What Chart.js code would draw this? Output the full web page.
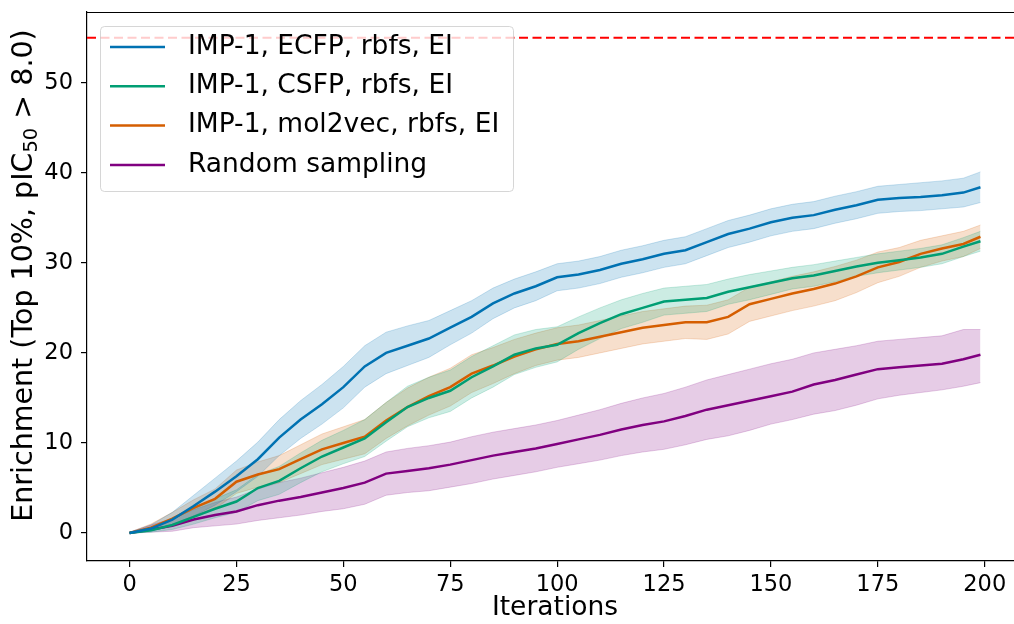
<!DOCTYPE html>
<html>
<head>
<meta charset="utf-8">
<script src="https://cdn.jsdelivr.net/npm/chart.js@4.4.1/dist/chart.umd.min.js"></script>
<style>
  html, body { margin: 0; padding: 0; background: #fff; overflow: hidden; }
  canvas { display: block; }
</style>
</head>
<body>
<canvas id="chart" width="1024" height="624"></canvas>
<script>
// values every 5 iterations
const iterations = [0,5,10,15,20,25,30,35,40,45,50,55,60,65,70,75,80,85,90,95,100,105,110,115,120,125,130,135,140,145,150,155,160,165,170,175,180,185,190,195,199];

const ecfpMean  = [0,0.5,1.5,3.0,4.6,6.3,8.2,10.6,12.6,14.3,16.2,18.5,20.0,20.8,21.6,22.8,24.0,25.5,26.6,27.4,28.4,28.7,29.2,29.9,30.4,31.0,31.4,32.3,33.2,33.8,34.5,35.0,35.3,35.9,36.4,37.0,37.2,37.3,37.5,37.8,38.4];
const ecfpUpper = [0.1,0.9,2.3,4.2,6.1,8.0,10.1,12.6,14.7,16.5,18.5,20.8,22.3,23.0,23.6,24.7,25.8,27.2,28.2,29.0,29.9,30.2,30.7,31.4,31.9,32.5,32.9,33.8,34.7,35.3,36.0,36.5,36.8,37.4,37.9,38.5,38.7,38.9,39.1,39.4,40.1];
const ecfpLower = [0,0.2,0.8,1.9,3.1,4.6,6.3,8.6,10.5,12.1,13.9,16.2,17.7,18.6,19.5,20.9,22.2,23.8,25.0,25.8,26.9,27.2,27.7,28.4,28.9,29.5,29.9,30.8,31.7,32.3,33.0,33.5,33.8,34.4,34.9,35.5,35.7,35.8,36.0,36.2,36.7];

const csfpMean  = [0,0.3,0.9,1.8,2.7,3.5,5.0,5.8,7.2,8.5,9.5,10.5,12.3,14.0,15.0,15.8,17.3,18.5,19.8,20.5,20.9,22.2,23.3,24.3,25.0,25.7,25.9,26.1,26.8,27.3,27.8,28.3,28.6,29.1,29.6,30.0,30.3,30.6,31.0,31.8,32.4];
const csfpUpper = [0.1,0.6,1.5,2.7,3.8,4.8,6.5,7.4,8.9,10.3,11.4,12.6,14.5,16.3,17.3,18.1,19.6,20.8,22.0,22.6,22.9,24.0,25.0,25.9,26.6,27.2,27.4,27.6,28.2,28.7,29.1,29.5,29.8,30.2,30.6,31.0,31.3,31.6,32.0,32.8,33.5];
const csfpLower = [0,0.1,0.4,1.0,1.7,2.3,3.6,4.3,5.6,6.8,7.7,8.5,10.2,11.8,12.8,13.5,15.0,16.2,17.6,18.4,19.0,20.4,21.6,22.7,23.4,24.2,24.4,24.6,25.4,25.9,26.5,27.1,27.4,27.9,28.5,28.9,29.2,29.5,29.9,30.7,31.3];

const mol2vecMean  = [0,0.6,1.6,2.8,3.8,5.7,6.5,7.1,8.2,9.3,10.0,10.7,12.5,14.0,15.2,16.2,17.7,18.6,19.6,20.4,21.0,21.3,21.8,22.3,22.8,23.1,23.4,23.4,24.0,25.4,26.0,26.6,27.1,27.7,28.5,29.5,30.1,31.0,31.6,32.1,32.9];
const mol2vecUpper = [0.1,1.0,2.3,3.7,4.9,7.0,7.9,8.6,9.8,11.0,11.8,12.6,14.5,16.1,17.3,18.3,19.8,20.6,21.5,22.2,22.8,23.1,23.6,24.1,24.6,24.9,25.2,25.3,25.9,27.3,27.9,28.5,29.0,29.6,30.3,31.2,31.7,32.5,33.0,33.5,34.2];
const mol2vecLower = [0,0.3,0.9,1.9,2.7,4.4,5.1,5.6,6.6,7.6,8.2,8.8,10.5,11.9,13.1,14.1,15.6,16.6,17.7,18.6,19.2,19.5,20.0,20.5,21.0,21.3,21.6,21.5,22.1,23.5,24.1,24.7,25.2,25.8,26.7,27.8,28.5,29.5,30.2,30.7,31.6];

const randomMean  = [0,0.4,0.8,1.5,2.0,2.4,3.1,3.6,4.0,4.5,5.0,5.6,6.6,6.9,7.2,7.6,8.1,8.6,9.0,9.4,9.9,10.4,10.9,11.5,12.0,12.4,13.0,13.7,14.2,14.7,15.2,15.7,16.5,17.0,17.6,18.2,18.4,18.6,18.8,19.3,19.8];
const randomUpper = [0.1,0.9,1.6,2.6,3.4,4.0,4.9,5.6,6.1,6.7,7.3,8.0,9.0,9.4,9.7,10.1,10.7,11.2,11.6,12.0,12.5,13.1,13.7,14.4,15.0,15.5,16.2,17.0,17.6,18.2,18.8,19.3,20.0,20.4,20.8,21.3,21.5,21.7,21.9,22.6,22.6];
const randomLower = [0,0.1,0.2,0.6,0.8,1.0,1.4,1.7,2.0,2.4,2.7,3.2,4.2,4.5,4.7,5.1,5.5,6.0,6.4,6.8,7.3,7.7,8.1,8.6,9.0,9.3,9.8,10.4,10.8,11.4,12.1,12.6,13.2,13.6,14.2,14.9,15.3,15.6,15.9,16.3,16.7];

const threshold = 55;
const xTicks = [0, 25, 50, 75, 100, 125, 150, 175, 200];
const yTicks = [0, 10, 20, 30, 40, 50];

const seriesLabels = ["IMP-1, ECFP, rbfs, EI", "IMP-1, CSFP, rbfs, EI", "IMP-1, mol2vec, rbfs, EI", "Random sampling"];
const seriesColors = ["#0072B2", "#009E73", "#D55E00", "#800080"];
// y label is drawn in three parts so "50" can sit as a real subscript
const yTitleParts = ["Enrichment (Top 10%, pIC", "50", " > 8.0)"];

const FONT = "'DejaVu Sans', sans-serif";

const toPoints = ys => ys.map((y, i) => ({ x: iterations[i], y: y }));

function withAlpha(hex, a) {
  const n = parseInt(hex.slice(1), 16);
  return `rgba(${(n >> 16) & 255}, ${(n >> 8) & 255}, ${n & 255}, ${a})`;
}

const series = [
  [ecfpMean, ecfpUpper, ecfpLower],
  [csfpMean, csfpUpper, csfpLower],
  [mol2vecMean, mol2vecUpper, mol2vecLower],
  [randomMean, randomUpper, randomLower]
];

const datasets = [];
series.forEach(([mean, upper, lower], i) => {
  const c = seriesColors[i];
  datasets.push({
    label: seriesLabels[i] + " upper",
    data: toPoints(upper),
    borderColor: withAlpha(c, 0.2),
    borderWidth: 1,
    backgroundColor: withAlpha(c, 0.2),
    fill: "+1",
    pointRadius: 0,
    tension: 0,
    order: 2
  });
  datasets.push({
    label: seriesLabels[i] + " lower",
    data: toPoints(lower),
    borderColor: withAlpha(c, 0.2),
    borderWidth: 1,
    fill: false,
    pointRadius: 0,
    tension: 0,
    order: 2
  });
});
series.forEach(([mean], i) => {
  datasets.push({
    label: seriesLabels[i],
    data: toPoints(mean),
    borderColor: seriesColors[i],
    borderWidth: 2.5,
    fill: false,
    pointRadius: 0,
    tension: 0,
    order: 1
  });
});
datasets.push({
  label: "threshold",
  data: [{ x: -9.95, y: threshold }, { x: 208.95, y: threshold }],
  borderColor: "#ff0000",
  borderWidth: 2,
  borderDash: [9, 4.5],
  pointRadius: 0,
  fill: false,
  order: 0
});

// top spine, y label and matplotlib style legend box
const framePlugin = {
  id: "frame",
  afterDatasetsDraw(chart) {
    const { ctx, chartArea } = chart;
    ctx.save();
    ctx.strokeStyle = "#000";
    ctx.lineWidth = 1.2;
    ctx.beginPath();
    ctx.moveTo(chartArea.left, chartArea.top + 0.5);
    ctx.lineTo(chartArea.right, chartArea.top + 0.5);
    ctx.stroke();

    // y axis title
    const big = 28.5, small = 19.5;
    ctx.fillStyle = "#000";
    ctx.textBaseline = "alphabetic";
    ctx.textAlign = "left";
    ctx.font = big + "px " + FONT;
    const w0 = ctx.measureText(yTitleParts[0]).width;
    const w2 = ctx.measureText(yTitleParts[2]).width;
    ctx.font = small + "px " + FONT;
    const w1 = ctx.measureText(yTitleParts[1]).width;
    const total = w0 + w1 + w2;
    const cy = (chartArea.top + chartArea.bottom) / 2 - 11;
    ctx.translate(32, cy);
    ctx.rotate(-Math.PI / 2);
    let tx = -total / 2;
    ctx.font = big + "px " + FONT;
    ctx.fillText(yTitleParts[0], tx, 0);
    tx += w0;
    ctx.font = small + "px " + FONT;
    ctx.fillText(yTitleParts[1], tx, 5);
    tx += w1;
    ctx.font = big + "px " + FONT;
    ctx.fillText(yTitleParts[2], tx, 0);
    ctx.setTransform(1, 0, 0, 1, 0, 0);

    // legend
    const bx = chartArea.left + 13, by = chartArea.top + 14;
    const bw = 413, bh = 165;
    ctx.fillStyle = "rgba(255,255,255,0.8)";
    ctx.strokeStyle = "rgba(204,204,204,0.8)";
    ctx.lineWidth = 1;
    ctx.beginPath();
    ctx.roundRect(bx + 0.5, by + 0.5, bw, bh, 4);
    ctx.fill();
    ctx.stroke();

    ctx.font = "26.5px " + FONT;
    ctx.textBaseline = "middle";
    seriesLabels.forEach((label, i) => {
      const ry = by + 21 + i * 39.3;
      ctx.strokeStyle = seriesColors[i];
      ctx.lineWidth = 2.5;
      ctx.beginPath();
      ctx.moveTo(bx + 10, ry);
      ctx.lineTo(bx + 65, ry);
      ctx.stroke();
      ctx.fillStyle = "#000";
      ctx.fillText(label, bx + 88, ry);
    });
    ctx.restore();
  }
};

new Chart(document.getElementById("chart"), {
  type: "line",
  data: { datasets: datasets },
  plugins: [framePlugin],
  options: {
    responsive: false,
    animation: false,
    layout: { padding: { top: 12, right: 1, left: 0, bottom: 0 } },
    plugins: {
      legend: { display: false },
      tooltip: { enabled: false }
    },
    scales: {
      x: {
        type: "linear",
        min: -9.95,
        max: 208.95,
        afterBuildTicks: s => { s.ticks = xTicks.map(v => ({ value: v })); },
        afterFit: s => { s.height = 63; s.paddingLeft = 0; s.paddingRight = 0; },
        ticks: {
          color: "#000",
          font: { family: FONT, size: 22.5 },
          padding: 5,
          maxRotation: 0
        },
        grid: { drawOnChartArea: false, drawTicks: true, tickLength: 6, color: "#000", lineWidth: 1.2 },
        border: { display: true, color: "#000", width: 1.2 },
        title: {
          display: true,
          text: "Iterations",
          color: "#000",
          font: { family: FONT, size: 26.5, lineHeight: 1.2 },
          padding: { top: 0, bottom: 0 }
        }
      },
      y: {
        type: "linear",
        min: -3.1,
        max: 57.85,
        afterBuildTicks: s => { s.ticks = yTicks.map(v => ({ value: v })); },
        afterFit: s => { s.width = 87; s.paddingTop = 0; s.paddingBottom = 0; },
        ticks: {
          color: "#000",
          font: { family: FONT, size: 22.5 },
          padding: 8
        },
        grid: { drawOnChartArea: false, drawTicks: true, tickLength: 6, color: "#000", lineWidth: 1.2 },
        border: { display: true, color: "#000", width: 1.2 }
      }
    }
  }
});
</script>
</body>
</html>
